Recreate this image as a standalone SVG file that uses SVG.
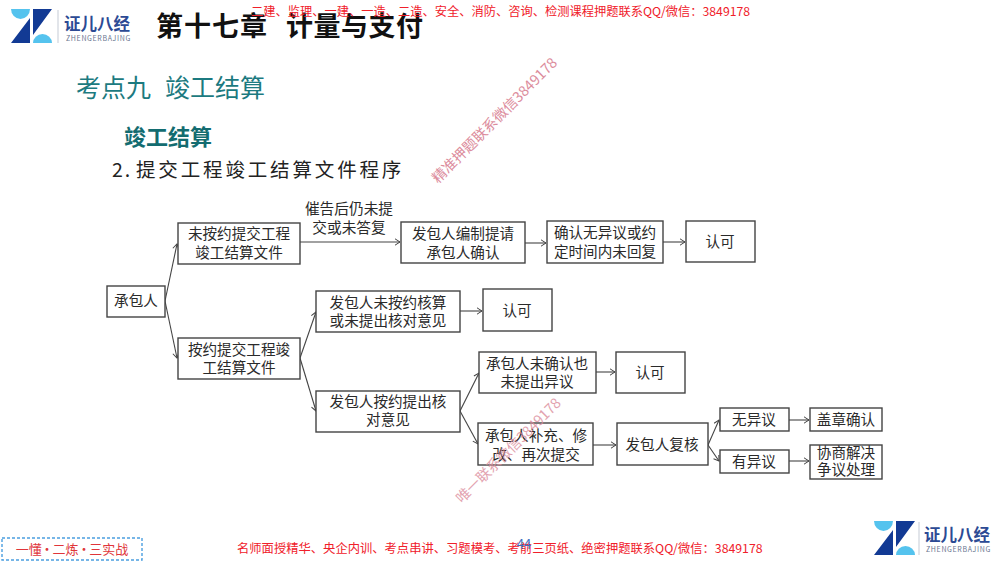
<svg xmlns="http://www.w3.org/2000/svg" width="1000" height="562" viewBox="0 0 1000 562">
<style>
text{font-family:"Noto Sans CJK SC","Liberation Sans",sans-serif}
.b rect{fill:#fff;stroke:#444;stroke-width:1.4}
.b text{font-size:14.6px;fill:#2a2a2a;text-anchor:middle}
.c path{fill:none;stroke:#444;stroke-width:1.1;marker-end:url(#a)}
.red{fill:#f0202a;font-size:12.25px}
.wm{fill:#dc8c9c;font-size:14.3px}
.navy{fill:#123a94}.sky{fill:#55c3ee}
.lt{fill:#2c4a94;font-weight:700;font-size:16.5px}
.ls{fill:#6a7690;font-size:7px;letter-spacing:.65px}
</style>
<defs><marker id="a" markerWidth="7" markerHeight="8" refX="6" refY="4" orient="auto" markerUnits="userSpaceOnUse"><path d="M1 .8L6 4L1 7.2" fill="none" stroke="#444" stroke-width="1"/></marker></defs>
<rect width="1000" height="562" fill="#fff"/>
<g id="logo-top">
<path class="sky" d="M11 9H30A9.500 10 0 0 1 11 9Z"/><path class="navy" d="M11 43L30 18V43ZM33 9H52L33 35Z"/><path class="sky" d="M33 43A9.500 9 0 0 1 52 43Z"/>
<rect x="57.500" y="10" width="1" height="33" fill="#c5cbd5"/>
<text class="lt" x="64" y="30">证儿八经</text><text class="ls" x="66" y="41">ZHENGERBAJING</text>
</g>
<text x="156" y="36" font-size="27" font-weight="700" letter-spacing="1" fill="#111">第十七章</text>
<text x="286" y="36" font-size="27" font-weight="700" letter-spacing=".5" fill="#111">计量与支付</text>
<text class="red" x="251" y="16">二建、监理、一建、一造、二造、安全、消防、咨询、检测课程押题联系QQ/微信：3849178</text>
<text x="76" y="97" font-size="25" fill="#1c7a80">考点九</text>
<text x="165" y="97" font-size="25" fill="#1c7a80">竣工结算</text>
<text x="124" y="145" font-size="22" font-weight="700" fill="#136c70">竣工结算</text>
<text x="112" y="177" font-size="19.500" letter-spacing="2" fill="#222">2.</text>
<text x="136" y="177" font-size="19.500" letter-spacing="2.850" fill="#222">提交工程竣工结算文件程序</text>
<text class="wm" transform="translate(438 184) rotate(-45)">精准押题联系微信3849178</text>
<g class="c">
<path d="M165 301L177 244"/><path d="M165 301L177 358"/><path d="M300 242H400"/>
<path d="M524 243H546"/><path d="M663 242H685"/><path d="M300 358L316 312"/><path d="M300 358L316 411"/>
<path d="M460 311H482"/><path d="M460 411L479 373"/><path d="M460 411L478 444"/><path d="M595 372H615"/><path d="M593 445H616"/>
<path d="M708 445L719 420"/><path d="M708 445L719 461"/><path d="M789 420H809"/><path d="M789 461H809"/>
</g>
<g class="b">
<g id="n1"><rect x="107" y="286" width="58" height="31"/><text x="136" y="306">承包人</text></g>
<g id="n2"><rect x="178" y="223" width="122" height="41"/><text x="239" y="239">未按约提交工程</text><text x="239" y="258">竣工结算文件</text></g>
<g id="n3"><rect x="178" y="338" width="122" height="41"/><text x="239" y="355">按约提交工程竣</text><text x="239" y="373">工结算文件</text></g>
<g id="n4"><rect x="401" y="222" width="124" height="41"/><text x="463" y="239">发包人编制提请</text><text x="463" y="258">承包人确认</text></g>
<g id="n5"><rect x="547" y="221" width="116" height="42"/><text x="605" y="238">确认无异议或约</text><text x="605" y="257">定时间内未回复</text></g>
<g id="n6"><rect x="686" y="221" width="69" height="41"/><text x="720" y="247">认可</text></g>
<g id="n7"><rect x="316" y="291" width="144" height="41"/><text x="388" y="308">发包人未按约核算</text><text x="388" y="326">或未提出核对意见</text></g>
<g id="n8"><rect x="483" y="289" width="69" height="42"/><text x="517" y="316">认可</text></g>
<g id="n9"><rect x="316" y="391" width="144" height="41"/><text x="388" y="407">发包人按约提出核</text><text x="388" y="425">对意见</text></g>
<g id="n10"><rect x="479" y="352" width="117" height="41"/><text x="537" y="369">承包人未确认也</text><text x="537" y="387">未提出异议</text></g>
<g id="n11"><rect x="616" y="352" width="69" height="41"/><text x="650" y="378">认可</text></g>
<g id="n12"><rect x="478" y="423" width="115" height="42"/><text x="536" y="441">承包人补充、修</text><text x="536" y="460">改、再次提交</text></g>
<g id="n13"><rect x="617" y="423" width="91" height="42"/><text x="662" y="450">发包人复核</text></g>
<g id="n14"><rect x="720" y="408" width="69" height="23"/><text x="754" y="425">无异议</text></g>
<g id="n15"><rect x="720" y="450" width="69" height="23"/><text x="754" y="467">有异议</text></g>
<g id="n16"><rect x="810" y="408" width="72" height="23"/><text x="846" y="425">盖章确认</text></g>
<g id="n17"><rect x="810" y="445" width="72" height="34"/><text x="846" y="457.500" font-size="14">协商解决</text><text x="846" y="474.500">争议处理</text></g>
</g>
<text x="349" y="214" font-size="14.700" fill="#2a2a2a" text-anchor="middle">催告后仍未提</text>
<text x="349" y="232.500" font-size="14.700" fill="#2a2a2a" text-anchor="middle">交或未答复</text>
<text class="wm" transform="translate(462 504) rotate(-45)" opacity=".8">唯一联系微信3849178</text>
<rect x="2" y="538" width="140" height="22" fill="#fff" stroke="#4b9fe0" stroke-width="1.4" stroke-dasharray="3 2"/>
<text x="72" y="554" font-size="13" word-spacing="-4" fill="#e0353a" text-anchor="middle">一懂 · 二炼 · 三实战</text>
<text class="red" x="237" y="553" style="font-size:12.3px">名师面授精华、央企内训、考点串讲、习题模考、考前三页纸、绝密押题联系QQ/微信：3849178</text>
<text x="524" y="549" font-size="13" fill="#3f6fc0" text-anchor="middle">44</text>
<g id="logo-bottom" transform="translate(863 512)">
<path class="sky" d="M11 9H30A9.500 10 0 0 1 11 9Z"/><path class="navy" d="M11 43L30 18V43ZM33 9H52L33 35Z"/><path class="sky" d="M33 43A9.500 9 0 0 1 52 43Z"/>
<rect x="55.500" y="10" width="1" height="33" fill="#c5cbd5"/>
<text class="lt" x="61" y="29">证儿八经</text><text class="ls" x="63" y="40">ZHENGERBAJING</text>
</g>
</svg>
